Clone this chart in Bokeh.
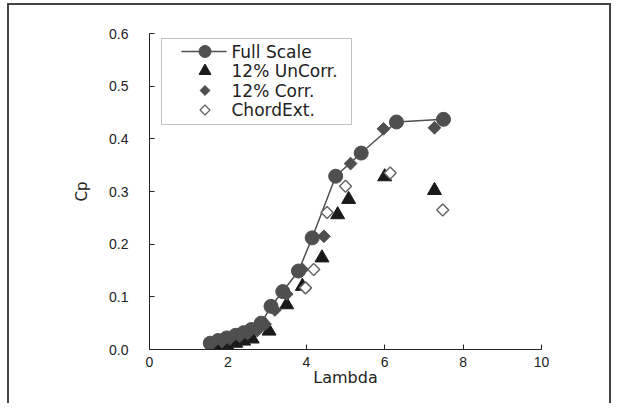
import math
from bokeh.plotting import figure
from bokeh.models import FixedTicker, PrintfTickFormatter, BoxAnnotation, Range1d
from bokeh.core.properties import value
from bokeh.embed import file_html
from bokeh.resources import INLINE

# Full Scale
fs_x = [1.55, 1.75, 1.97, 2.2, 2.4, 2.6, 2.85, 3.1, 3.4, 3.8, 4.15, 4.75, 5.4, 6.3, 7.5]
fs_y = [0.012, 0.017, 0.022, 0.027, 0.032, 0.038, 0.05, 0.082, 0.11, 0.149, 0.212, 0.329, 0.373, 0.432, 0.437]
# 12% UnCorr.
un_x = [1.8, 1.97, 2.2, 2.4, 2.62, 3.05, 3.5, 3.9, 4.4, 4.8, 5.08, 6.0, 7.27]
un_y = [0.006, 0.008, 0.012, 0.016, 0.02, 0.035, 0.085, 0.12, 0.174, 0.256, 0.285, 0.328, 0.302]
# 12% Corr.
co_x = [1.6, 1.85, 2.05, 2.3, 2.5, 2.75, 2.95, 3.2, 3.5, 3.9, 4.45, 5.13, 5.97, 7.27]
co_y = [0.011, 0.015, 0.02, 0.025, 0.03, 0.036, 0.048, 0.075, 0.105, 0.152, 0.215, 0.353, 0.419, 0.421]
# ChordExt.
ce_x = [3.98, 4.19, 4.53, 5.0, 6.14, 7.48]
ce_y = [0.117, 0.152, 0.26, 0.31, 0.335, 0.265]

series_names = ["Full Scale", "12% UnCorr.", "12% Corr.", "ChordExt."]
x_ticks = [0, 2, 4, 6, 8, 10]
y_ticks = [0.0, 0.1, 0.2, 0.3, 0.4, 0.5, 0.6]

GRAY = "#4f4f4f"
BLACK = "#1a1a1a"
OPEN = "#666666"

FRAME_W, FRAME_H = 392, 316
p = figure(width=604, height=400, x_range=(0, 10), y_range=(0, 0.6),
           output_backend="svg", toolbar_location=None,
           min_border_left=140, min_border_right=72,
           min_border_top=28, min_border_bottom=56)
p.styles = {"border-top": "2px solid #444444", "border-left": "2px solid #444444",
            "border-right": "2px solid #444444",
            "margin-left": "7px", "margin-top": "3px"}
p.outline_line_color = None
p.xgrid.visible = False
p.ygrid.visible = False

for ax in (p.xaxis[0], p.yaxis[0]):
    ax.axis_line_color = "#222222"
    ax.axis_line_width = 1
    ax.major_tick_in = 5
    ax.major_tick_out = 0
    ax.major_tick_line_color = "#222222"
    ax.minor_tick_line_color = None
    ax.major_label_text_font = "Liberation Sans"
    ax.major_label_text_font_size = "14px"
    ax.major_label_text_color = "#222222"
    ax.axis_label_text_font = "DejaVu Sans"
    ax.axis_label_text_font_style = "normal"
    ax.axis_label_text_color = "#222222"

p.xaxis.ticker = FixedTicker(ticks=x_ticks)
p.yaxis.ticker = FixedTicker(ticks=y_ticks)
p.yaxis.formatter = PrintfTickFormatter(format="%.1f")
p.xaxis.axis_label = "Lambda"
p.yaxis.axis_label = "Cp"
p.xaxis.axis_label_text_font_size = "16px"
p.yaxis.axis_label_text_font_size = "15px"
p.xaxis.major_label_standoff = 7
p.yaxis.major_label_standoff = 21
p.xaxis.axis_label_standoff = -2
p.yaxis.axis_label_standoff = 15

# data series
p.line(fs_x, fs_y, line_color=GRAY, line_width=1.5)
p.scatter(fs_x, fs_y, marker="circle", size=14, fill_color=GRAY, line_color=GRAY)
p.scatter(un_x, un_y, marker="triangle", size=14, fill_color=BLACK, line_color=BLACK)
p.scatter(co_x, co_y, marker="square", angle=math.pi / 4, size=9,
          fill_color=GRAY, line_color=GRAY)
p.scatter(ce_x, ce_y, marker="square", angle=math.pi / 4, size=8.5,
          fill_color="white", line_color=OPEN, line_width=1.5)

# legend, drawn in frame pixel coordinates
p.extra_x_ranges = {"px": Range1d(0, FRAME_W)}
p.extra_y_ranges = {"px": Range1d(0, FRAME_H)}
leg_rows = [298, 278.5, 259, 239.5]
gx = 55.5
kw = dict(x_range_name="px", y_range_name="px")

box = BoxAnnotation(left=12, right=202, top=311, bottom=225,
                    left_units="screen", right_units="screen",
                    top_units="screen", bottom_units="screen",
                    fill_alpha=0, line_color="#333333", line_width=1)
p.add_layout(box)

p.line([32, 77], [leg_rows[0], leg_rows[0]], line_color=GRAY, line_width=1.5, **kw)
p.scatter([gx], [leg_rows[0]], marker="circle", size=12, fill_color=GRAY, line_color=GRAY, **kw)
p.scatter([gx], [leg_rows[1]], marker="triangle", size=12, fill_color=BLACK, line_color=BLACK, **kw)
p.scatter([gx], [leg_rows[2]], marker="square", angle=math.pi / 4, size=7,
          fill_color=GRAY, line_color=GRAY, **kw)
p.scatter([gx], [leg_rows[3]], marker="square", angle=math.pi / 4, size=7,
          fill_color="white", line_color=OPEN, line_width=1.3, **kw)
p.text(x=[82] * 4, y=leg_rows, text=series_names,
       text_font=value("DejaVu Sans"), text_font_size="17px",
       text_color="#222222", text_align="left", text_baseline="middle", **kw)

open("out.html", "w").write(file_html(p, INLINE))
